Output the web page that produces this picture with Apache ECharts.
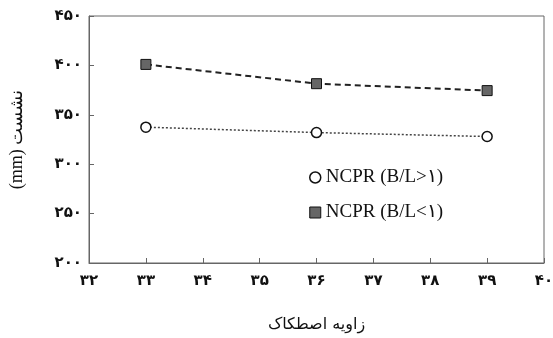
<!DOCTYPE html>
<html>
<head>
<meta charset="utf-8">
<script src="https://cdn.jsdelivr.net/npm/echarts@6/dist/echarts.min.js"></script>
<style>html,body{margin:0;padding:0;background:#fff}#c{width:553px;height:338px}</style>
</head>
<body>
<div id="c"></div>
<script>
const xValues = [33, 36, 39];
const seriesNames = ['NCPR (B/L>۱)', 'NCPR (B/L<۱)'];
const circleValues = [337.5, 332, 328];
const squareValues = [401, 381.5, 374.5];
const xTicks = [32, 33, 34, 35, 36, 37, 38, 39, 40];
const yTicks = [200, 250, 300, 350, 400, 450];
const xTitle = 'زاویه اصطکاک';
const yTitle = '(mm) نشست';

const fa = n => String(n).replace(/\d/g, d => '۰۱۲۳۴۵۶۷۸۹'[d]);
const chart = echarts.init(document.getElementById('c'), null, {renderer: 'canvas'});
const labelFont = {fontFamily: 'DejaVu Sans', fontWeight: 'bold', fontSize: 15, color: '#111'};
chart.setOption({
  animation: false,
  backgroundColor: '#fff',
  grid: {left: 89, right: 9, top: 16, bottom: 75, show: true, borderColor: '#666', borderWidth: 1,
         containLabel: false, outerBoundsMode: 'none'},
  legend: {
    orient: 'vertical', left: 304, top: 163, itemGap: 16, itemWidth: 11, itemHeight: 11,
    textStyle: {fontFamily: 'Liberation Serif', fontSize: 19, color: '#111'},
    data: [
      {name: seriesNames[0], icon: 'circle', itemStyle: {color: '#fff', borderColor: '#111', borderWidth: 1.5}},
      {name: seriesNames[1], icon: 'rect', itemStyle: {color: '#666', borderColor: '#111', borderWidth: 1}}
    ]
  },
  xAxis: {
    type: 'value', min: xTicks[0], max: xTicks[xTicks.length - 1], interval: 1,
    name: xTitle, nameLocation: 'middle', nameGap: 54,
    nameTextStyle: {fontFamily: 'DejaVu Sans', fontSize: 16, color: '#111'},
    axisLine: {show: true, lineStyle: {color: '#666', width: 1}},
    axisTick: {show: true, inside: true, length: 5, lineStyle: {color: '#666'}},
    axisLabel: Object.assign({margin: 11, formatter: v => fa(v)}, labelFont),
    splitLine: {show: false}
  },
  yAxis: {
    type: 'value', min: yTicks[0], max: yTicks[yTicks.length - 1], interval: 50,
    name: yTitle, nameLocation: 'middle', nameRotate: 90, nameGap: 63,
    nameTextStyle: {fontFamily: 'Liberation Serif', fontSize: 18, color: '#111'},
    axisLine: {show: true, lineStyle: {color: '#666', width: 1}},
    axisTick: {show: true, inside: true, length: 5, lineStyle: {color: '#666'}},
    axisLabel: Object.assign({margin: 7, formatter: v => fa(v)}, labelFont),
    splitLine: {show: false}
  },
  series: [
    {
      name: seriesNames[0], type: 'line',
      data: xValues.map((x, i) => [x, circleValues[i]]),
      symbol: 'circle', symbolSize: 10,
      itemStyle: {color: '#fff', borderColor: '#111', borderWidth: 1.5},
      lineStyle: {color: '#444', width: 1.5, type: [2, 2]}
    },
    {
      name: seriesNames[1], type: 'line',
      data: xValues.map((x, i) => [x, squareValues[i]]),
      symbol: 'rect', symbolSize: 10,
      itemStyle: {color: '#666', borderColor: '#111', borderWidth: 1},
      lineStyle: {color: '#222', width: 2, type: [6, 4]}
    }
  ]
});
</script>
</body>
</html>
